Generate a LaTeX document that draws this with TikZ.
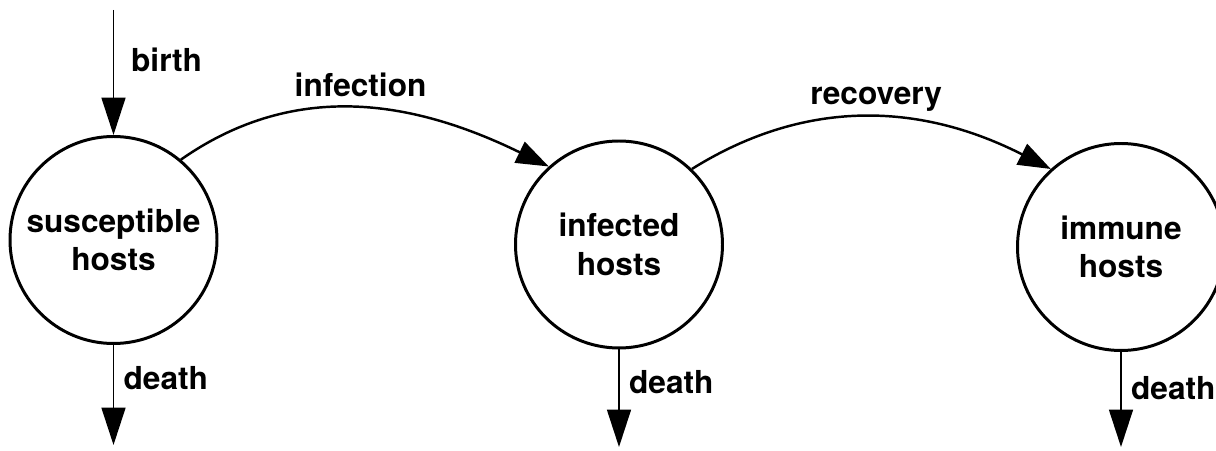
\documentclass[tikz,border=0pt]{standalone}
\usepackage{fontspec}
\setmainfont{TeX Gyre Heros}
\usetikzlibrary{positioning,arrows.meta}
\tikzset{
  host/.style ={circle, draw=black, line width=1.7pt, minimum size=4.14cm, inner sep=0pt, align=center, font=\fontsize{18}{22}\selectfont\bfseries},
  ln/.style   ={draw=black, line width=1pt, -{Triangle[length=7.5mm,width=4.8mm]}},
  lnc/.style  ={draw=black, line width=1.4pt, -{Triangle[length=6.5mm,width=4.6mm]}},
  tag/.style  ={font=\fontsize{18}{22}\selectfont\bfseries, inner sep=1pt},
}

\begin{document}
\begin{tikzpicture}
    \useasboundingbox (0,0) rectangle (24.32,9);

    \node[host] (sus) at (2.27,4.2)  {susceptible\\ hosts};
    \node[host] (inf) at (12.38,4.11) {infected\\ hosts};
    \node[host] (imm) at (22.42,4.06) {immune\\ hosts};

    \coordinate (src) at (2.27,8.8);
    \coordinate (dsus) at (2.27,0.1);
    \coordinate (dinf) at (12.38,0.06);
    \coordinate (dimm) at (22.42,0.06);

    \draw[ln] (src) -- node[tag,pos=0.4,right=3mm] {birth} (sus.north);
    \draw[ln] (sus.south) -- node[tag,pos=0.33,right=1.5mm] {death} (dsus);
    \draw[ln] (inf.south) -- node[tag,pos=0.33,right=1.5mm] {death} (dinf);
    \draw[ln] (imm.south) -- node[tag,pos=0.38,right=1.5mm] {death} (dimm);

    \draw[lnc] (sus.50) to[out=35,in=154] node[tag,pos=0.5,above=1.7mm] {infection} (inf.132);
    \draw[lnc] (inf.46) to[out=32,in=153] node[tag,pos=0.52,above=0.6mm] {recovery} (imm.132);
\end{tikzpicture}
\end{document}
